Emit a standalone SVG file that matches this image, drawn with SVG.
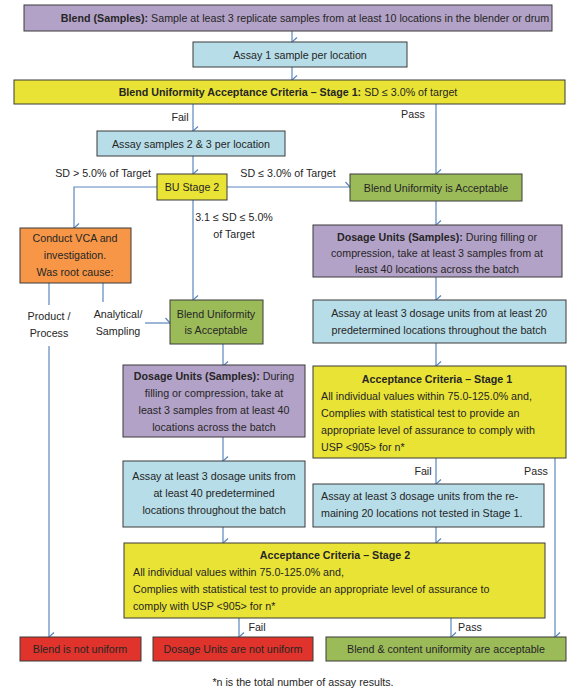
<svg xmlns="http://www.w3.org/2000/svg" width="581" height="689" viewBox="0 0 581 689">
<style>
.b{stroke:#3a3a3a;stroke-width:1}
.pu{fill:#b3a2c7}.bl{fill:#b7dde8}.ye{fill:#e9e335}.gr{fill:#9bbb59}.or{fill:#f79646}.rd{fill:#e0332b}
text{font-family:"Liberation Sans",Arial,sans-serif;font-size:10.7px;fill:#262626}
.c{text-anchor:middle}.bd{font-weight:bold}
.cn{stroke:#5b86bd;stroke-width:1.2;fill:none}
.a{marker-end:url(#ar)}
</style>
<defs>
<marker id="ar" viewBox="0 0 10 10" refX="5" refY="9" markerWidth="10" markerHeight="10" markerUnits="userSpaceOnUse" orient="auto-start-reverse">
<path d="M0.5,4 L5,9 L9.5,4" fill="none" stroke="#5b86bd" stroke-width="1.2"/>
</marker>
</defs>
<rect width="581" height="689" fill="#fff"/>
<g id="connectors">
<path class="cn a" d="M292,31 V42"/>
<path class="cn a" d="M292,67 V80"/>
<path class="cn a" d="M193,104 V131"/>
<path class="cn a" d="M436,104 V174"/>
<path class="cn a" d="M193,156 V174"/>
<path class="cn a" d="M157,187 H74 V228"/>
<path class="cn a" d="M227,187 H350"/>
<path class="cn a" d="M193,200 V300"/>
<path class="cn a" d="M436,201 V225"/>
<path class="cn a" d="M436,277 V300"/>
<path class="cn a" d="M436,343 V366"/>
<path class="cn a" d="M436,458 V484"/>
<path class="cn a" d="M555,458 V637"/>
<path class="cn a" d="M436,527 V543"/>
<path class="cn" d="M49,283 V305"/>
<path class="cn a" d="M49,346 V637"/>
<path class="cn" d="M103,283 V302"/>
<path class="cn a" d="M145,323 H170"/>
<path class="cn a" d="M223,344 V366"/>
<path class="cn a" d="M223,437 V461"/>
<path class="cn a" d="M223,527 V543"/>
<path class="cn a" d="M239,618 V637"/>
<path class="cn a" d="M451,618 V637"/>
<text x="180" y="121" class="c">Fail</text>
<text x="413" y="118" class="c">Pass</text>
<text x="103" y="177" class="c">SD &gt; 5.0% of Target</text>
<text x="288" y="177" class="c">SD ≤ 3.0% of Target</text>
<text x="234" y="221" class="c">3.1 ≤ SD ≤ 5.0%</text>
<text x="234" y="238" class="c">of Target</text>
<text x="49" y="320" class="c">Product /</text>
<text x="49" y="337" class="c">Process</text>
<text x="118" y="318" class="c">Analytical/</text>
<text x="118" y="335" class="c">Sampling</text>
<text x="423" y="475" class="c">Fail</text>
<text x="536" y="475" class="c">Pass</text>
<text x="257" y="631" class="c">Fail</text>
<text x="470" y="631" class="c">Pass</text>
</g>
<g id="n-blend-samples">
<rect x="24" y="5" width="528" height="26" class="b pu"/>
<text x="305" y="21.5" class="c"><tspan class="bd">Blend (Samples):</tspan>  Sample at least 3 replicate samples from at least 10 locations in the blender or drum</text>
</g>
<g id="n-assay1">
<rect x="193" y="42" width="214" height="25" class="b bl"/>
<text x="300" y="58.5" class="c">Assay 1 sample per location</text>
</g>
<g id="n-bu-stage1">
<rect x="14" y="80" width="551" height="24" class="b ye"/>
<text x="288" y="96" class="c"><tspan class="bd">Blend Uniformity Acceptance Criteria – Stage 1:</tspan>  SD ≤ 3.0% of target</text>
</g>
<g id="n-assay23">
<rect x="97" y="131" width="188" height="25" class="b bl"/>
<text x="191" y="147.5" class="c">Assay samples 2 &amp; 3 per location</text>
</g>
<g id="n-bu-stage2">
<rect x="157" y="174" width="70" height="26" class="b ye"/>
<text x="192" y="190.5" class="c">BU Stage 2</text>
</g>
<g id="n-bu-acc-right">
<rect x="350" y="174" width="172" height="27" class="b gr"/>
<text x="436" y="191.5" class="c">Blend Uniformity is Acceptable</text>
</g>
<g id="n-vca">
<rect x="20" y="228" width="111" height="55" class="b or"/>
<text x="75" y="242" class="c">Conduct VCA and</text>
<text x="75" y="259" class="c">investigation.</text>
<text x="75" y="276" class="c">Was root cause:</text>
</g>
<g id="n-du-right">
<rect x="313" y="225" width="249" height="52" class="b pu"/>
<text x="437" y="241" class="c"><tspan class="bd">Dosage Units (Samples):</tspan>  During filling or</text>
<text x="437" y="257" class="c">compression, take at least 3 samples from at</text>
<text x="437" y="273" class="c">least 40 locations across the batch</text>
</g>
<g id="n-assay-right">
<rect x="313" y="300" width="253" height="43" class="b bl"/>
<text x="439" y="317" class="c">Assay at least 3 dosage units from at least 20</text>
<text x="439" y="334" class="c">predetermined locations throughout the batch</text>
</g>
<g id="n-bu-acc-mid">
<rect x="170" y="300" width="93" height="44" class="b gr"/>
<text x="216" y="318" class="c">Blend Uniformity</text>
<text x="216" y="334" class="c">is Acceptable</text>
</g>
<g id="n-ac-stage1">
<rect x="313" y="366" width="253" height="92" class="b ye"/>
<text x="437" y="383" class="c bd">Acceptance Criteria – Stage 1</text>
<text x="321" y="400">All individual values within 75.0-125.0% and,</text>
<text x="321" y="417">Complies with statistical test to provide an</text>
<text x="321" y="434">appropriate level of assurance to comply with</text>
<text x="321" y="451">USP &lt;905&gt; for n*</text>
</g>
<g id="n-du-mid">
<rect x="123" y="365" width="182" height="72" class="b pu"/>
<text x="214" y="380" class="c"><tspan class="bd">Dosage Units (Samples):</tspan>  During</text>
<text x="214" y="397" class="c">filling or compression, take at</text>
<text x="214" y="414" class="c">least 3 samples from at least 40</text>
<text x="214" y="431" class="c">locations across the batch</text>
</g>
<g id="n-assay-mid">
<rect x="123" y="461" width="182" height="66" class="b bl"/>
<text x="214" y="480" class="c">Assay at least 3 dosage units from</text>
<text x="214" y="497" class="c">at least 40 predetermined</text>
<text x="214" y="514" class="c">locations throughout the batch</text>
</g>
<g id="n-assay-remaining">
<rect x="313" y="484" width="231" height="43" class="b bl"/>
<text x="321" y="500">Assay at least 3 dosage units from the re-</text>
<text x="321" y="517">maining 20 locations not tested in Stage 1.</text>
</g>
<g id="n-ac-stage2">
<rect x="124" y="543" width="421" height="75" class="b ye"/>
<text x="335" y="559" class="c bd">Acceptance Criteria – Stage 2</text>
<text x="133" y="576">All individual values within 75.0-125.0% and,</text>
<text x="133" y="593">Complies with statistical test to provide an appropriate level of assurance to</text>
<text x="133" y="610">comply with USP &lt;905&gt; for n*</text>
</g>
<g id="n-blend-not-uniform">
<rect x="20" y="637" width="121" height="24" class="b rd"/>
<text x="80" y="653" class="c">Blend is not uniform</text>
</g>
<g id="n-du-not-uniform">
<rect x="153" y="637" width="160" height="24" class="b rd"/>
<text x="233" y="653" class="c">Dosage Units are not uniform</text>
</g>
<g id="n-acceptable">
<rect x="326" y="637" width="240" height="24" class="b gr"/>
<text x="446" y="653" class="c">Blend &amp; content uniformity are acceptable</text>
</g>
<text x="303" y="686" class="c">*n is the total number of assay results.</text>
</svg>
